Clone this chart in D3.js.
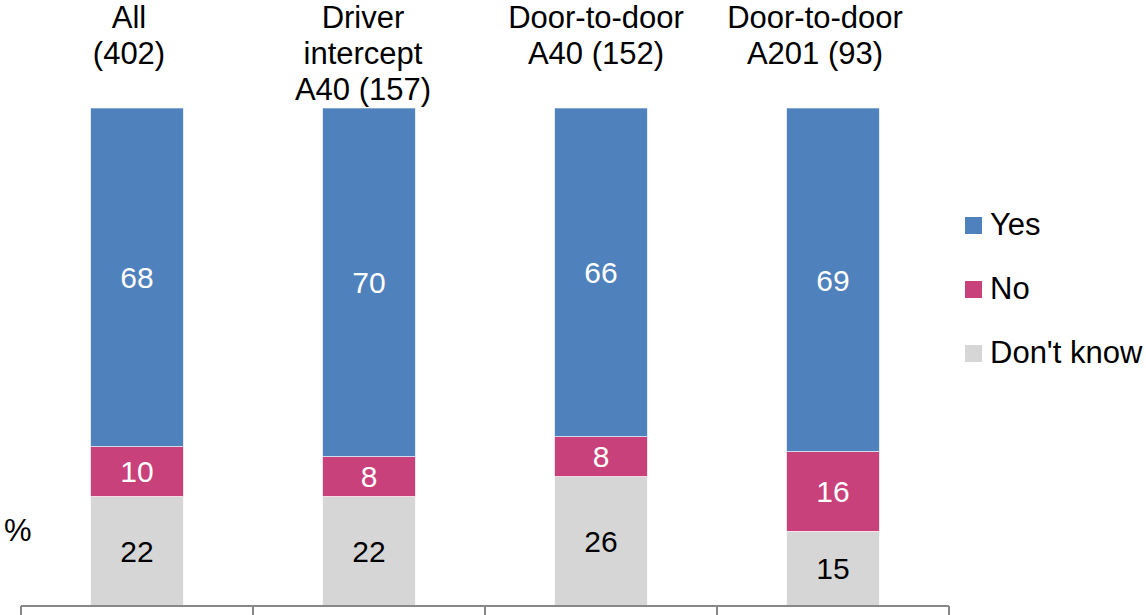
<!DOCTYPE html>
<html>
<head>
<meta charset="utf-8">
<script src="https://cdn.jsdelivr.net/npm/d3@7"></script>
<style>
  html, body { margin: 0; padding: 0; background: #fff; }
  svg { display: block; font-family: "Liberation Sans", Arial, sans-serif; }
</style>
</head>
<body>
<svg id="chart" width="1146" height="615"></svg>
<script>
// Survey groups and their headers (one line per array entry)
const categories = ["All", "Driver intercept A40", "Door-to-door A40", "Door-to-door A201"];
const categoryLines = [
  ["All", "(402)"],
  ["Driver", "intercept", "A40 (157)"],
  ["Door-to-door", "A40 (152)"],
  ["Door-to-door", "A201 (93)"]
];

// Percentages per answer, stacked from the bottom up: Don't know, No, Yes
const dontKnow = [22, 22, 26, 15];
const no = [10, 8, 8, 16];
const yes = [68, 70, 66, 69];

const seriesNames = ["Don't know", "No", "Yes"];
const legendOrder = ["Yes", "No", "Don't know"];
const colors = { "Yes": "#4F81BD", "No": "#C8417A", "Don't know": "#D6D6D6" };
const labelColors = { "Yes": "#ffffff", "No": "#ffffff", "Don't know": "#000000" };

// Header text boxes sit slightly left of their bars
const headerShift = [-8, -6, -5, -18];

const rows = categories.map((c, i) => ({
  category: c,
  "Don't know": dontKnow[i],
  "No": no[i],
  "Yes": yes[i]
}));

const svg = d3.select("#chart");
const fontSize = 31;
const valueFontSize = 30;

const x = d3.scaleBand().domain(categories).range([21, 949]).paddingInner(0).paddingOuter(0);
const y = d3.scaleLinear().domain([0, 100]).range([606, 108]);
const barW = x.bandwidth() * 0.4;

const stack = d3.stack().keys(seriesNames);
const layers = stack(rows);

const layerG = svg.selectAll("g.layer")
  .data(layers)
  .join("g")
  .attr("class", "layer")
  .attr("fill", d => colors[d.key]);

layerG.selectAll("rect")
  .data(d => d.map(s => Object.assign(s, { key: d.key })))
  .join("rect")
  .attr("x", d => x(d.data.category) + (x.bandwidth() - barW) / 2)
  .attr("width", barW)
  .attr("y", d => y(d[1]))
  .attr("height", d => y(d[0]) - y(d[1]))
  .attr("stroke", "#ffffff")
  .attr("stroke-width", 0.6);

// Value labels centred in each segment
layerG.selectAll("text")
  .data(d => d)
  .join("text")
  .attr("x", d => x(d.data.category) + x.bandwidth() / 2)
  .attr("y", d => (y(d[0]) + y(d[1])) / 2)
  .attr("dy", "0.36em")
  .attr("text-anchor", "middle")
  .attr("font-size", valueFontSize)
  .attr("fill", d => labelColors[d.key])
  .text(d => d[1] - d[0]);

// Category axis along the bottom, with ticks between groups
const axisY = 606;
svg.append("line")
  .attr("x1", x.range()[0]).attr("x2", x.range()[1])
  .attr("y1", axisY).attr("y2", axisY)
  .attr("stroke", "#888888").attr("stroke-width", 2);

const boundaries = categories.map(c => x(c)).concat([x.range()[1]]);
svg.selectAll("line.tick")
  .data(boundaries)
  .join("line")
  .attr("class", "tick")
  .attr("x1", d => d).attr("x2", d => d)
  .attr("y1", axisY).attr("y2", 615)
  .attr("stroke", "#888888").attr("stroke-width", 2);

// Group headers above the bars
const header = svg.selectAll("text.header")
  .data(categories)
  .join("text")
  .attr("class", "header")
  .attr("text-anchor", "middle")
  .attr("font-size", fontSize)
  .attr("fill", "#000");

header.selectAll("tspan")
  .data((d, i) => categoryLines[i].map(line => ({ line, cat: d, i })))
  .join("tspan")
  .attr("x", d => x(d.cat) + x.bandwidth() / 2 + headerShift[d.i])
  .attr("y", (d, j) => 28 + j * 36)
  .text(d => d.line);

// Unit marker
svg.append("text")
  .attr("x", 4).attr("y", 541)
  .attr("font-size", fontSize)
  .text("%");

// Legend
const legend = svg.selectAll("g.legend")
  .data(legendOrder)
  .join("g")
  .attr("class", "legend")
  .attr("transform", (d, i) => `translate(965, ${217 + i * 64})`);

legend.append("rect")
  .attr("width", 17).attr("height", 17)
  .attr("fill", d => colors[d]);

legend.append("text")
  .attr("x", 25).attr("y", 18)
  .attr("font-size", fontSize)
  .attr("fill", "#000")
  .text(d => d);
</script>
</body>
</html>
